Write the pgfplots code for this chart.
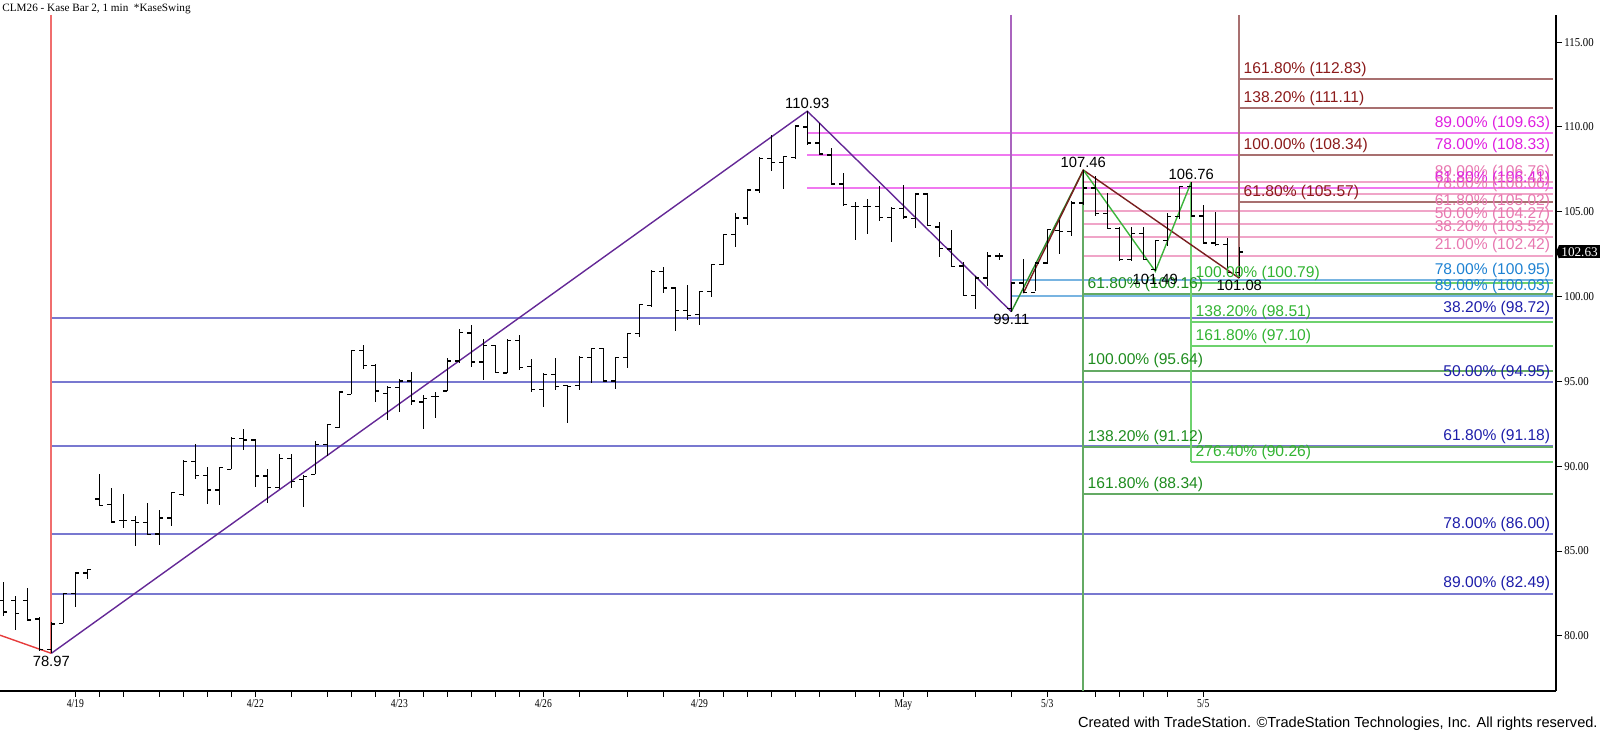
\documentclass[border=0pt]{standalone}
\usepackage{pgfplots}
\pgfplotsset{compat=1.18}
\usepackage{pgfplotstable}
\usepackage{fontspec}
\setmainfont{Liberation Sans}
\newfontfamily\serif{Liberation Serif}

\definecolor{blueL}{RGB}{120,120,208}
\definecolor{blueT}{RGB}{30,30,170}
\definecolor{magL}{RGB}{240,120,240}
\definecolor{magT}{RGB}{224,32,224}
\definecolor{pinkL}{RGB}{240,165,200}
\definecolor{pinkT}{RGB}{232,120,176}
\definecolor{ltblueL}{RGB}{120,180,225}
\definecolor{ltblueT}{RGB}{30,130,210}
\definecolor{dkgreenL}{RGB}{100,170,100}
\definecolor{dkgreenT}{RGB}{30,140,30}
\definecolor{ltgreenL}{RGB}{110,210,110}
\definecolor{ltgreenT}{RGB}{50,180,50}
\definecolor{brownL}{RGB}{168,112,112}
\definecolor{brownT}{RGB}{139,26,26}
\definecolor{purpS}{RGB}{100,40,150}
\definecolor{purpV}{RGB}{170,100,190}
\definecolor{redS}{RGB}{230,60,60}
\definecolor{redV}{RGB}{240,110,110}
\definecolor{grnS}{RGB}{60,180,60}
\definecolor{dgrnS}{RGB}{40,140,40}
\definecolor{brnS}{RGB}{120,30,30}

\tikzset{
  lbl/.style={font=\fontsize{7.8}{9}\selectfont, inner sep=1pt},
  val/.style={font=\fontsize{7.4}{9}\selectfont, inner sep=1pt, text=black},
}

\pgfplotstableread{
i O H L C
0 82.1 83.2 81.2 81.4
1 82.1 82.37 80.35 81.3
2 82.1 82.8 80.9 80.94
3 81.0 81.1 79.1 79.2
4 79.2 80.8 78.97 80.7
5 80.74 82.53 80.74 82.5
6 82.5 83.7 81.7 83.7
7 83.7 83.94 83.35 83.9
8 88.06 89.53 87.67 87.7
9 87.76 88.74 86.69 86.72
10 86.8 88.35 86.33 86.8
11 86.8 87.04 85.31 86.7
12 86.7 87.86 85.96 85.98
13 86.0 87.41 85.37 86.94
14 86.94 88.45 86.45 88.45
15 88.35 90.35 88.25 90.27
16 90.27 91.33 89.23 89.47
17 89.47 89.98 87.8 88.6
18 88.6 89.92 87.72 89.92
19 89.82 91.74 89.82 91.65
20 91.65 92.18 90.96 91.55
21 91.55 91.63 88.78 89.43
22 89.43 89.82 87.82 88.74
23 88.74 90.71 88.65 90.45
24 90.45 90.75 88.69 89.1
25 89.2 89.47 87.57 89.4
26 89.53 91.49 89.53 91.3
27 91.3 92.51 90.61 92.47
28 92.27 94.37 92.27 94.37
29 94.23 96.84 94.23 96.84
30 96.84 97.12 95.75 95.94
31 95.94 96.0 93.8 94.43
32 94.3 94.73 92.72 94.63
33 94.63 95.12 93.2 95.02
34 95.02 95.55 93.59 93.84
35 93.78 94.18 92.22 94.0
36 94.1 94.37 92.86 94.1
37 94.43 96.39 94.43 96.2
38 96.2 98.06 96.1 97.9
39 97.86 98.3 95.86 96.14
40 96.14 97.51 95.08 97.12
41 97.12 97.12 95.47 95.51
42 95.5 97.51 95.47 97.43
43 97.43 97.76 95.67 95.8
44 95.86 96.33 94.37 94.53
45 94.53 95.51 93.51 95.39
46 95.39 96.39 94.49 94.69
47 94.76 94.76 92.57 94.69
48 94.76 96.49 94.49 96.39
49 96.39 96.98 94.88 96.94
50 96.94 96.98 94.98 95.02
51 95.02 96.45 94.53 96.39
52 96.39 97.86 95.8 97.82
53 97.82 99.53 97.63 99.53
54 99.47 101.55 99.39 101.49
55 101.49 101.75 100.22 100.51
56 100.51 100.57 97.96 99.18
57 99.18 100.7 98.61 98.88
58 98.94 100.31 98.35 100.31
59 100.31 101.88 99.98 101.88
60 101.88 103.71 101.88 103.65
61 103.65 104.92 102.92 104.63
62 104.63 106.33 104.24 106.29
63 106.29 108.2 106.1 108.16
64 108.16 109.53 107.43 107.9
65 107.9 108.29 106.33 108.25
66 108.2 110.06 108.1 110.06
67 110.0 110.93 108.94 109.05
68 109.05 110.22 108.35 108.4
69 108.35 108.74 106.59 106.63
70 106.63 107.27 105.35 105.41
71 105.3 105.55 103.35 105.3
72 105.3 105.75 103.71 105.3
73 105.3 106.53 104.43 104.67
74 104.67 105.27 103.2 105.2
75 105.2 106.59 104.57 104.7
76 104.6 106.1 104.04 106.05
77 106.05 106.1 104.14 104.2
78 104.1 104.37 102.33 102.85
79 102.8 103.94 101.75 101.79
80 101.8 102.02 100.02 100.06
81 100.06 101.24 99.24 101.1
82 101.1 102.61 100.65 102.4
83 102.4 102.57 102.18 102.4
84 99.3 100.84 99.11 100.8
85 100.8 102.22 100.20 100.25
86 100.25 102.02 100.3 101.98
87 101.98 103.98 101.94 103.94
88 103.9 104.49 102.53 103.84
89 103.84 105.61 103.59 105.51
90 105.51 107.46 105.4 106.4
91 106.4 107.08 104.76 104.9
92 104.9 106.1 103.98 104.0
93 104.0 104.1 102.12 102.18
94 102.18 104.1 102.08 103.7
95 103.7 104.1 102.14 102.2
96 101.6 103.31 101.49 103.3
97 103.3 104.92 102.96 104.73
98 104.73 106.53 104.57 106.49
99 106.49 106.76 104.73 104.75
100 104.75 105.41 103.12 103.16
101 103.16 104.96 103.0 103.06
102 103.06 103.45 101.3 101.4
103 101.4 102.92 101.08 102.63
}\bars

\newcommand{\hl}[4]{\addplot[#1, line width=1pt, forget plot] coordinates {(#2,#4) (#3,#4)};}
\newcommand{\dl}[1]{\scalebox{0.8}[1]{#1}}

\begin{document}
\begin{tikzpicture}[x=0.5pt,y=0.5pt]
\path[use as bounding box] (0,0) rectangle (1600,731);
\node[anchor=base west, inner sep=0pt, font=\serif\fontsize{5.6}{6}\selectfont] at (2,719.3) {CLM26 - Kase Bar 2, 1 min\ \ *KaseSwing};
\node[anchor=base east, inner sep=0pt, font=\fontsize{7.3}{8}\selectfont] at (1598,3.5) {Created with TradeStation. ©TradeStation Technologies, Inc. All rights reserved.};
\begin{axis}[
  at={(0pt,20pt)}, anchor=south west, scale only axis,
  width=778pt, height=338pt,
  xmin=-0.275, xmax=129.39, ymin=76.75, ymax=116.6,
  enlargelimits=false, clip=false,
  axis x line*=bottom, axis y line*=right,
  axis line style={black, line width=0.6pt},
  tick align=outside, major tick length=3pt,
  tick style={black, line width=0.5pt},
  ytick={80,85,90,95,100,105,110,115},
  scaled y ticks=false,
  yticklabel={\scalebox{0.9}[1]{\pgfmathprintnumber[fixed,fixed zerofill,precision=2,assume math mode=true]{\tick}}},
  yticklabel style={font=\serif\fontsize{6}{7}\selectfont, anchor=west, inner sep=1pt},
  xtick={6,8,10,13,15,17,19,21,24,27,29,31,33,35,37,39,41,43,45,48,52,55,58,60,62,64,66,68,71,73,75,77,81,84,87,91,93,95,97,100},
  xticklabels={\dl{4/19},,,,,,,\dl{4/22},,,,,\dl{4/23},,,,,,\dl{4/26},,,,\dl{4/29},,,,,,,,\dl{May},,,,\dl{5/3},,,,,\dl{5/5}},
  xticklabel style={font=\serif\fontsize{6}{7}\selectfont, inner sep=1pt},
]
% blue retracement lines
\hl{blueL}{4}{129.1}{98.72}
\hl{blueL}{4}{129.1}{94.95}
\hl{blueL}{4}{129.1}{91.18}
\hl{blueL}{4}{129.1}{86.00}
\hl{blueL}{4}{129.1}{82.49}
% magenta
\hl{magL}{67}{129.1}{109.63}
\hl{magL}{67}{129.1}{108.33}
\hl{magL}{67}{129.1}{106.41}
% pink
\hl{pinkL}{90}{129.1}{106.76}
\hl{pinkL}{90}{129.1}{106.06}
\hl{pinkL}{90}{129.1}{105.02}
\hl{pinkL}{90}{129.1}{104.27}
\hl{pinkL}{90}{129.1}{103.52}
\hl{pinkL}{90}{129.1}{102.42}
% light blue
\hl{ltblueL}{84}{129.1}{100.95}
\hl{ltblueL}{84}{129.1}{100.03}
% dark green
\hl{dkgreenL}{90}{129.1}{100.16}
\hl{dkgreenL}{90}{129.1}{95.64}
\hl{dkgreenL}{90}{129.1}{91.12}
\hl{dkgreenL}{90}{129.1}{88.34}
% light green
\hl{ltgreenL}{99}{129.1}{100.79}
\hl{ltgreenL}{99}{129.1}{98.51}
\hl{ltgreenL}{99}{129.1}{97.10}
\hl{ltgreenL}{99}{129.1}{90.26}
% brown
\hl{brownL}{103}{129.1}{105.57}
\hl{brownL}{103}{129.1}{108.34}
\hl{brownL}{103}{129.1}{111.11}
\hl{brownL}{103}{129.1}{112.83}
% vertical lines
\addplot[redV, line width=1pt] coordinates {(4,116.6) (4,78.97)};
\addplot[purpV, line width=1pt] coordinates {(84,116.6) (84,99.11)};
\addplot[dkgreenL, line width=1pt] coordinates {(90,107.46) (90,76.75)};
\addplot[ltgreenL, line width=1pt] coordinates {(99,106.76) (99,90.26)};
\addplot[brownL, line width=1pt] coordinates {(103,116.6) (103,101.08)};
% swing lines
\addplot[redS, line width=0.7pt] coordinates {(-0.275,80.04) (4,78.97)};
\addplot[purpS, line width=0.7pt] coordinates {(4,78.97) (67,110.93) (84,99.11)};
\addplot[dgrnS, line width=0.7pt] coordinates {(84,99.11) (90,107.46)};
\addplot[brnS, line width=0.7pt] coordinates {(85,100.20) (90,107.46) (103,101.08)};
\addplot[grnS, line width=0.7pt] coordinates {(90,107.46) (96,101.49) (99,106.76)};
% OHLC bars
\addplot[draw=none, mark=none, forget plot, error bars/.cd, y dir=both, y explicit, error mark=none, error bar style={draw=black, line width=0.65pt}]
  table[x=i, y expr={(\thisrow{H}+\thisrow{L})/2}, y error expr={(\thisrow{H}-\thisrow{L})/2}] {\bars};
\addplot[draw=none, mark=none, forget plot, error bars/.cd, x dir=minus, x fixed=0.32, error mark=none, error bar style={draw=black, line width=0.65pt}]
  table[x=i, y=O] {\bars};
\addplot[draw=none, mark=none, forget plot, error bars/.cd, x dir=plus, x fixed=0.32, error mark=none, error bar style={draw=black, line width=0.65pt}]
  table[x=i, y=C] {\bars};
% fib labels right-aligned
\node[lbl, text=blueT, anchor=south east] at (axis cs:129.1,98.72) {38.20\% (98.72)};
\node[lbl, text=blueT, anchor=south east] at (axis cs:129.1,94.95) {50.00\% (94.95)};
\node[lbl, text=blueT, anchor=south east] at (axis cs:129.1,91.18) {61.80\% (91.18)};
\node[lbl, text=blueT, anchor=south east] at (axis cs:129.1,86.00) {78.00\% (86.00)};
\node[lbl, text=blueT, anchor=south east] at (axis cs:129.1,82.49) {89.00\% (82.49)};
\node[lbl, text=magT, anchor=south east] at (axis cs:129.1,109.63) {89.00\% (109.63)};
\node[lbl, text=magT, anchor=south east] at (axis cs:129.1,108.33) {78.00\% (108.33)};
\node[lbl, text=pinkT, anchor=south east] at (axis cs:129.1,106.76) {89.00\% (106.76)};
\node[lbl, text=magT, anchor=south east] at (axis cs:129.1,106.41) {61.80\% (106.41)};
\node[lbl, text=pinkT, anchor=south east] at (axis cs:129.1,106.06) {78.00\% (106.06)};
\node[lbl, text=pinkT, anchor=south east] at (axis cs:129.1,105.02) {61.80\% (105.02)};
\node[lbl, text=pinkT, anchor=south east] at (axis cs:129.1,104.27) {50.00\% (104.27)};
\node[lbl, text=pinkT, anchor=south east] at (axis cs:129.1,103.52) {38.20\% (103.52)};
\node[lbl, text=pinkT, anchor=south east] at (axis cs:129.1,102.42) {21.00\% (102.42)};
\node[lbl, text=ltblueT, anchor=south east] at (axis cs:129.1,100.95) {78.00\% (100.95)};
\node[lbl, text=ltblueT, anchor=south east] at (axis cs:129.1,100.03) {89.00\% (100.03)};
% left-aligned labels
\node[lbl, text=dkgreenT, anchor=south west, xshift=1pt] at (axis cs:90,100.16) {61.80\% (100.16)};
\node[lbl, text=dkgreenT, anchor=south west, xshift=1pt] at (axis cs:90,95.64) {100.00\% (95.64)};
\node[lbl, text=dkgreenT, anchor=south west, xshift=1pt] at (axis cs:90,91.12) {138.20\% (91.12)};
\node[lbl, text=dkgreenT, anchor=south west, xshift=1pt] at (axis cs:90,88.34) {161.80\% (88.34)};
\node[lbl, text=ltgreenT, anchor=south west, xshift=1pt] at (axis cs:99,100.79) {100.00\% (100.79)};
\node[lbl, text=ltgreenT, anchor=south west, xshift=1pt] at (axis cs:99,98.51) {138.20\% (98.51)};
\node[lbl, text=ltgreenT, anchor=south west, xshift=1pt] at (axis cs:99,97.10) {161.80\% (97.10)};
\node[lbl, text=ltgreenT, anchor=south west, xshift=1pt] at (axis cs:99,90.26) {276.40\% (90.26)};
\node[lbl, text=brownT, anchor=south west, xshift=1pt] at (axis cs:103,105.57) {61.80\% (105.57)};
\node[lbl, text=brownT, anchor=south west, xshift=1pt] at (axis cs:103,108.34) {100.00\% (108.34)};
\node[lbl, text=brownT, anchor=south west, xshift=1pt] at (axis cs:103,111.11) {138.20\% (111.11)};
\node[lbl, text=brownT, anchor=south west, xshift=1pt] at (axis cs:103,112.83) {161.80\% (112.83)};
% swing values
\node[val, anchor=south] at (axis cs:67,110.93) {110.93};
\node[val, anchor=south] at (axis cs:90,107.46) {107.46};
\node[val, anchor=south] at (axis cs:99,106.76) {106.76};
\node[val, anchor=north] at (axis cs:84,99.11) {99.11};
\node[val, anchor=north] at (axis cs:4,78.97) {78.97};
\node[val, anchor=north] at (axis cs:96,101.49) {101.49};
\node[val, anchor=north] at (axis cs:103,101.08) {101.08};
% last price marker
\node[fill=black, text=white, font=\serif\fontsize{6.6}{7}\selectfont, inner sep=1pt, anchor=west, xshift=1.5pt] (pm) at (axis cs:129.39,102.63) {102.63};
\fill[black] (pm.north west) -- (pm.south west) -- ([xshift=-1.5pt]pm.west) -- cycle;
\end{axis}
\end{tikzpicture}
\end{document}
